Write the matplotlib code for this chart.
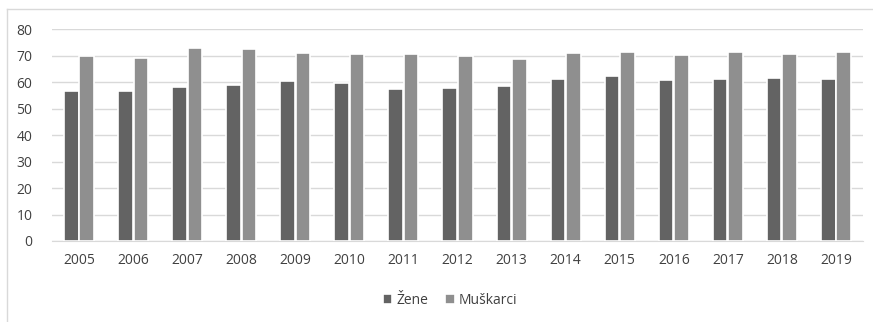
import matplotlib.pyplot as plt
import numpy as np
from matplotlib.lines import Line2D

# Years and values per group
godine = ['2005', '2006', '2007', '2008', '2009', '2010', '2011', '2012',
          '2013', '2014', '2015', '2016', '2017', '2018', '2019']
zene = [56.7, 56.7, 58.3, 58.9, 60.3, 59.6, 57.4, 57.9,
        58.4, 61.2, 62.2, 60.8, 61.3, 61.5, 61.4]
muskarci = [69.9, 69.3, 72.9, 72.4, 71.0, 70.5, 70.5, 69.8,
            68.7, 70.9, 71.5, 70.1, 71.4, 70.8, 71.4]

plt.rcParams['font.family'] = ['Open Sans', 'DejaVu Sans']

fig = plt.figure(figsize=(8.73, 3.22), dpi=100)
ax = fig.add_axes([52 / 873, 1 - 241 / 322, 811 / 873, (241 - 29.3) / 322])

x = np.arange(len(godine))
pomak = 0.143
sirina = 0.27
ax.bar(x - pomak, zene, sirina, color='#636363', edgecolor='white',
       linewidth=1.2, label='Žene', zorder=3)
ax.bar(x + pomak, muskarci, sirina, color='#8f8f8f', edgecolor='white',
       linewidth=1.2, label='Muškarci', zorder=3)

# Axes styling
ax.set_xlim(-0.5, len(godine) - 0.5)
ax.set_ylim(0, 80)
ax.set_yticks(range(0, 81, 10))
ax.set_xticks(x)
ax.set_xticklabels(godine)
ax.yaxis.grid(True, color='#d9d9d9', linewidth=1, zorder=0)
for s in ['top', 'right', 'left']:
    ax.spines[s].set_visible(False)
ax.spines['bottom'].set_color('#d9d9d9')
ax.tick_params(axis='both', length=0, labelsize=10, colors='#404040')
ax.tick_params(axis='x', pad=9)
ax.tick_params(axis='y', pad=14)

# Legend below the axes
ax.legend(loc='center', bbox_to_anchor=(450 / 873, 1 - 300 / 322),
          bbox_transform=fig.transFigure, ncol=2, frameon=False,
          fontsize=10, handlelength=0.7, handleheight=0.7,
          handletextpad=0.3, columnspacing=1.2, labelcolor='#404040')

# Chart area border (left and top)
fig.add_artist(Line2D([7 / 873, 7 / 873], [0, 1 - 9 / 322],
                      transform=fig.transFigure, color='#d9d9d9', linewidth=1))
fig.add_artist(Line2D([7 / 873, 1], [1 - 9 / 322, 1 - 9 / 322],
                      transform=fig.transFigure, color='#d9d9d9', linewidth=1))

fig.savefig('out.png', dpi=100)
